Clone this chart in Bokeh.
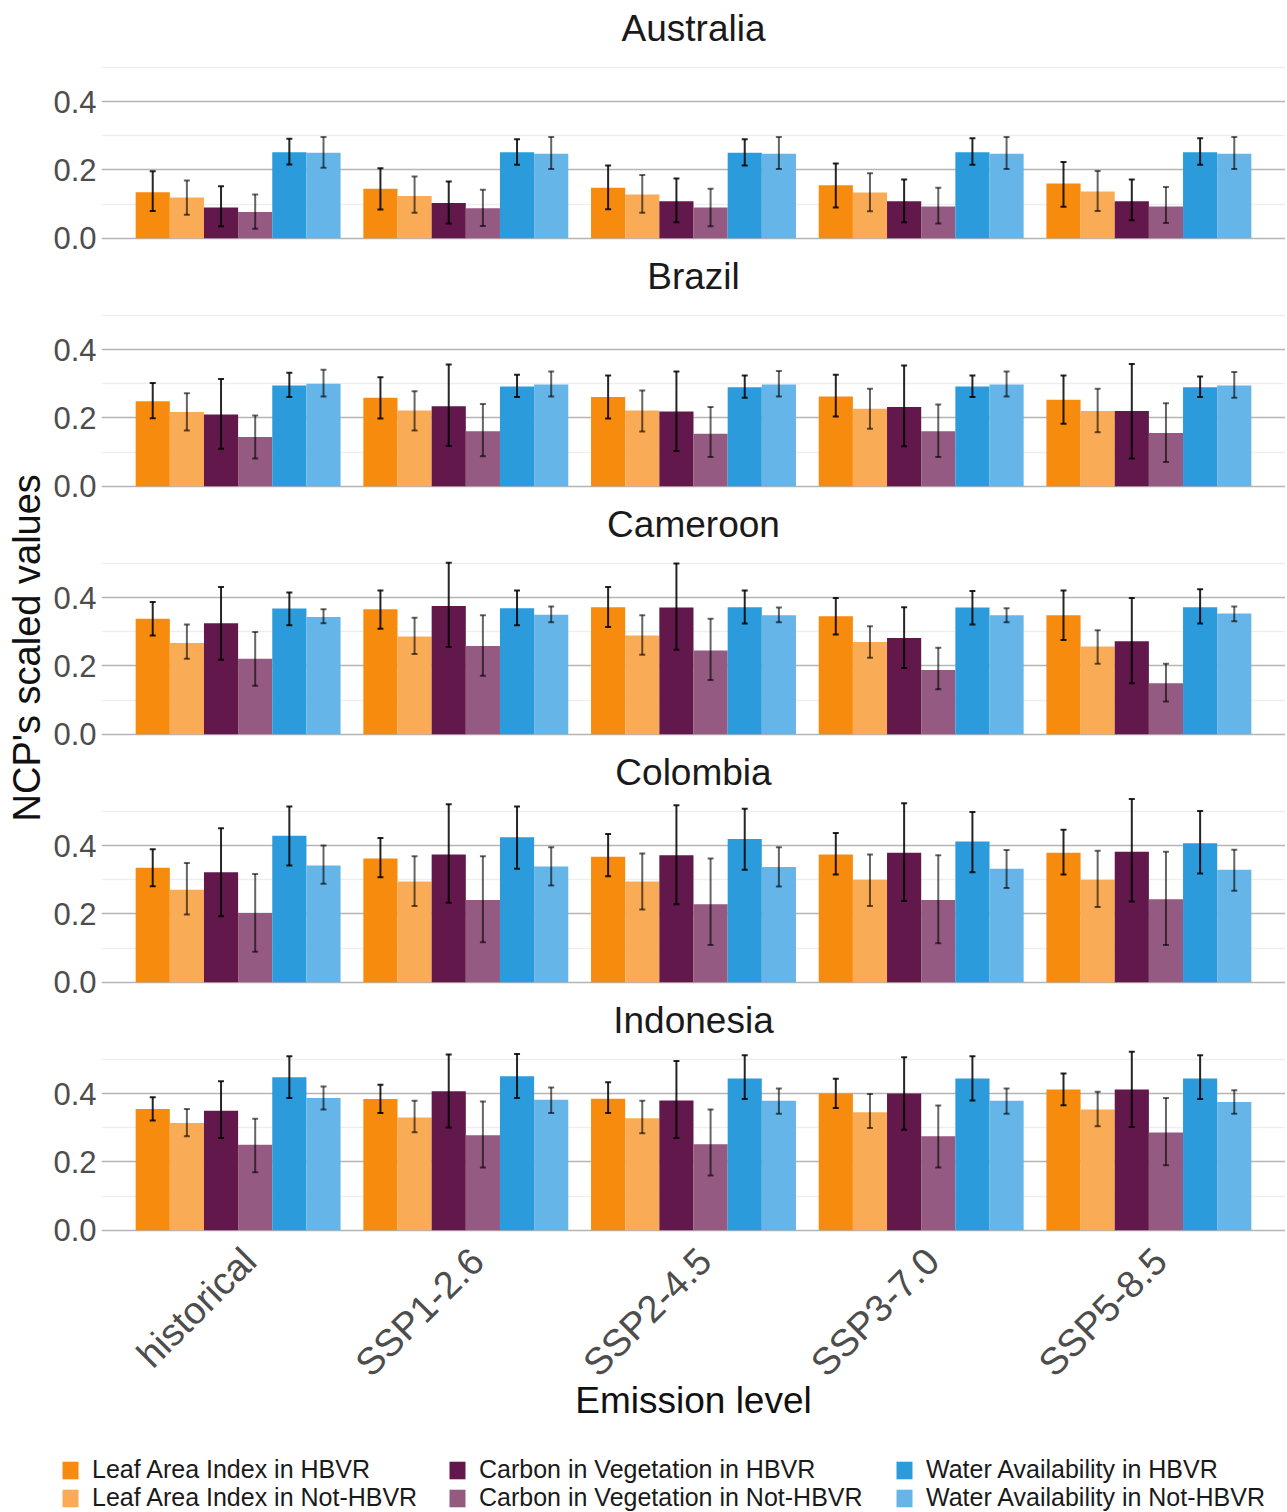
import math
from bokeh.plotting import figure
from bokeh.models import (ColumnDataSource, Range1d, FixedTicker, Whisker, LinearAxis,
                          TeeHead, Legend, LegendItem, NumeralTickFormatter)
from bokeh.transform import dodge
from bokeh.layouts import column, row
from bokeh.core.properties import value
from bokeh.embed import file_html
from bokeh.resources import INLINE

# ---------------- data ----------------
EMISSIONS = ["historical", "SSP1-2.6", "SSP2-4.5", "SSP3-7.0", "SSP5-8.5"]
SERIES = ["Leaf Area Index in HBVR", "Leaf Area Index in Not-HBVR",
          "Carbon in Vegetation in HBVR", "Carbon in Vegetation in Not-HBVR",
          "Water Availability in HBVR", "Water Availability in Not-HBVR"]
COUNTRIES = ["Australia", "Brazil", "Cameroon", "Colombia", "Indonesia"]
Y_TICKS = [0.0, 0.2, 0.4]
Y_MINOR = [0.1, 0.3, 0.5]
X_LABEL = "Emission level"
Y_LABEL = "NCP's  scaled values"

# rows follow SERIES, columns follow EMISSIONS
AUSTRALIA_MEAN = [
    [0.135, 0.145, 0.148, 0.155, 0.160],
    [0.119, 0.124, 0.128, 0.134, 0.137],
    [0.090, 0.103, 0.108, 0.108, 0.108],
    [0.077, 0.088, 0.090, 0.093, 0.093],
    [0.252, 0.252, 0.250, 0.252, 0.252],
    [0.250, 0.247, 0.247, 0.247, 0.247],
]
AUSTRALIA_LOW = [
    [0.080, 0.084, 0.085, 0.090, 0.092],
    [0.069, 0.075, 0.075, 0.079, 0.080],
    [0.035, 0.043, 0.047, 0.047, 0.053],
    [0.028, 0.036, 0.035, 0.043, 0.045],
    [0.216, 0.215, 0.213, 0.215, 0.215],
    [0.206, 0.203, 0.203, 0.203, 0.203],
]
AUSTRALIA_HIGH = [
    [0.196, 0.205, 0.213, 0.219, 0.223],
    [0.169, 0.181, 0.185, 0.190, 0.197],
    [0.152, 0.166, 0.175, 0.172, 0.172],
    [0.128, 0.142, 0.145, 0.148, 0.150],
    [0.291, 0.290, 0.290, 0.293, 0.293],
    [0.296, 0.296, 0.296, 0.296, 0.296],
]

BRAZIL_MEAN = [
    [0.249, 0.259, 0.261, 0.263, 0.253],
    [0.217, 0.222, 0.222, 0.227, 0.220],
    [0.210, 0.234, 0.219, 0.232, 0.220],
    [0.144, 0.161, 0.154, 0.161, 0.156],
    [0.295, 0.292, 0.290, 0.292, 0.290],
    [0.300, 0.298, 0.298, 0.298, 0.295],
]
BRAZIL_LOW = [
    [0.199, 0.198, 0.198, 0.204, 0.183],
    [0.163, 0.163, 0.160, 0.168, 0.158],
    [0.110, 0.118, 0.103, 0.117, 0.081],
    [0.081, 0.088, 0.086, 0.086, 0.071],
    [0.261, 0.261, 0.259, 0.261, 0.261],
    [0.263, 0.263, 0.263, 0.263, 0.259],
]
BRAZIL_HIGH = [
    [0.302, 0.319, 0.324, 0.326, 0.324],
    [0.272, 0.278, 0.280, 0.285, 0.285],
    [0.314, 0.356, 0.336, 0.353, 0.358],
    [0.207, 0.241, 0.232, 0.239, 0.243],
    [0.332, 0.326, 0.324, 0.324, 0.321],
    [0.341, 0.336, 0.337, 0.336, 0.334],
]

CAMEROON_MEAN = [
    [0.338, 0.366, 0.372, 0.345, 0.348],
    [0.267, 0.286, 0.289, 0.270, 0.257],
    [0.325, 0.375, 0.371, 0.282, 0.272],
    [0.221, 0.258, 0.245, 0.188, 0.149],
    [0.368, 0.369, 0.372, 0.371, 0.372],
    [0.343, 0.350, 0.348, 0.348, 0.353],
]
CAMEROON_LOW = [
    [0.289, 0.309, 0.314, 0.292, 0.276],
    [0.221, 0.235, 0.233, 0.224, 0.206],
    [0.218, 0.255, 0.247, 0.194, 0.149],
    [0.142, 0.171, 0.159, 0.132, 0.096],
    [0.319, 0.319, 0.324, 0.321, 0.324],
    [0.325, 0.328, 0.328, 0.328, 0.331],
]
CAMEROON_HIGH = [
    [0.387, 0.421, 0.431, 0.399, 0.421],
    [0.321, 0.341, 0.348, 0.316, 0.304],
    [0.431, 0.502, 0.500, 0.372, 0.399],
    [0.299, 0.348, 0.338, 0.253, 0.206],
    [0.415, 0.421, 0.421, 0.419, 0.424],
    [0.366, 0.374, 0.371, 0.369, 0.374],
]

COLOMBIA_MEAN = [
    [0.335, 0.362, 0.367, 0.374, 0.379],
    [0.271, 0.295, 0.295, 0.300, 0.300],
    [0.322, 0.374, 0.372, 0.379, 0.382],
    [0.203, 0.241, 0.228, 0.241, 0.243],
    [0.429, 0.424, 0.419, 0.412, 0.407],
    [0.342, 0.339, 0.337, 0.332, 0.329],
]
COLOMBIA_LOW = [
    [0.281, 0.307, 0.310, 0.315, 0.315],
    [0.198, 0.223, 0.213, 0.223, 0.220],
    [0.193, 0.233, 0.228, 0.238, 0.236],
    [0.089, 0.117, 0.109, 0.114, 0.109],
    [0.342, 0.332, 0.329, 0.322, 0.318],
    [0.288, 0.283, 0.280, 0.276, 0.268],
]
COLOMBIA_HIGH = [
    [0.389, 0.422, 0.434, 0.437, 0.446],
    [0.349, 0.369, 0.377, 0.374, 0.385],
    [0.451, 0.521, 0.518, 0.524, 0.536],
    [0.317, 0.369, 0.362, 0.372, 0.382],
    [0.514, 0.514, 0.508, 0.498, 0.501],
    [0.400, 0.395, 0.395, 0.387, 0.388],
]

INDONESIA_MEAN = [
    [0.355, 0.384, 0.385, 0.400, 0.412],
    [0.314, 0.330, 0.328, 0.345, 0.353],
    [0.350, 0.407, 0.380, 0.400, 0.412],
    [0.250, 0.278, 0.252, 0.275, 0.286],
    [0.448, 0.451, 0.444, 0.444, 0.444],
    [0.387, 0.382, 0.379, 0.379, 0.375],
]
INDONESIA_LOW = [
    [0.321, 0.343, 0.343, 0.358, 0.366],
    [0.275, 0.287, 0.284, 0.299, 0.304],
    [0.270, 0.301, 0.270, 0.294, 0.302],
    [0.170, 0.184, 0.160, 0.184, 0.190],
    [0.387, 0.387, 0.384, 0.380, 0.384],
    [0.353, 0.343, 0.341, 0.341, 0.341],
]
INDONESIA_HIGH = [
    [0.389, 0.426, 0.433, 0.443, 0.459],
    [0.355, 0.379, 0.379, 0.399, 0.405],
    [0.436, 0.514, 0.495, 0.506, 0.522],
    [0.326, 0.377, 0.353, 0.365, 0.387],
    [0.509, 0.516, 0.512, 0.509, 0.512],
    [0.421, 0.418, 0.415, 0.415, 0.410],
]

PANELS = {
    "Australia": (AUSTRALIA_MEAN, AUSTRALIA_LOW, AUSTRALIA_HIGH),
    "Brazil": (BRAZIL_MEAN, BRAZIL_LOW, BRAZIL_HIGH),
    "Cameroon": (CAMEROON_MEAN, CAMEROON_LOW, CAMEROON_HIGH),
    "Colombia": (COLOMBIA_MEAN, COLOMBIA_LOW, COLOMBIA_HIGH),
    "Indonesia": (INDONESIA_MEAN, INDONESIA_LOW, INDONESIA_HIGH),
}

# ---------------- styling ----------------
COLORS = ["#F68B0E", "#F9AC55", "#62184A", "#945A81", "#2B9BDB", "#66B5E8"]
ERR_ALPHA = [0.85, 0.6, 0.85, 0.6, 0.85, 0.6]
OFFSETS = [-0.375, -0.225, -0.075, 0.075, 0.225, 0.375]
BAR_W = 0.15
FONT = "Liberation Sans"

S = 342.0                 # pixels per data unit
Y0, Y1 = -0.027, 0.567
FRAME_H = round((Y1 - Y0) * S)
LEFT_W = 50
PANEL_W = 1235
BORDER_L = 50
BOTTOM_PAD = 10
BELOW_PX = 201
LEGEND_H = 72
LABEL_SHIFT = 0.05        # rotated tick labels sit slightly right of the group centre
PAD = 0.04                # fraction of the category span added as outer padding

n = len(EMISSIONS)
half_pad = PAD * n / 2
POS = [k + 0.5 for k in range(n)]          # category slots on the linear scale
x_range = Range1d(-half_pad, n + half_pad)

panels = []
for i, country in enumerate(COUNTRIES):
    mean, low, high = PANELS[country]
    last = (i == len(COUNTRIES) - 1)
    title_px = 44 if i == 0 else 45 - BOTTOM_PAD
    below = BELOW_PX if last else BOTTOM_PAD
    p = figure(width=PANEL_W, height=FRAME_H + title_px + below,
               x_range=x_range, y_range=Range1d(Y0, Y1 + title_px / S),
               output_backend="svg", toolbar_location=None,
               x_axis_location=None,
               min_border_left=BORDER_L, min_border_right=0,
               min_border_top=0, min_border_bottom=below)
    p.outline_line_color = None
    p.xgrid.visible = False
    ticker = FixedTicker(ticks=Y_TICKS, minor_ticks=Y_MINOR)
    p.yaxis.ticker = ticker
    p.ygrid.ticker = ticker
    p.ygrid.grid_line_color = "#b5b5b5"
    p.ygrid.grid_line_width = 1.5
    p.ygrid.minor_grid_line_color = "#eeeeee"
    p.ygrid.minor_grid_line_width = 1.5
    p.yaxis.formatter = NumeralTickFormatter(format="0.0")
    p.yaxis.axis_line_color = None
    p.yaxis.major_tick_line_color = None
    p.yaxis.minor_tick_line_color = None
    p.yaxis.major_tick_out = 0
    p.yaxis.major_tick_in = 0
    p.yaxis.minor_tick_out = 0
    p.yaxis.minor_tick_in = 0
    p.yaxis.major_label_text_font = FONT
    p.yaxis.major_label_text_font_size = "31px"
    p.yaxis.major_label_text_color = "#4d4d4d"
    p.yaxis.major_label_standoff = 5

    for j, name in enumerate(SERIES):
        src = ColumnDataSource(dict(emission=EMISSIONS, pos=POS,
                                    mean=mean[j], lo=low[j], hi=high[j]))
        p.vbar(x=dodge("pos", OFFSETS[j]), top="mean", bottom=0, width=BAR_W, source=src,
               fill_color=COLORS[j], line_color=None)
        a = ERR_ALPHA[j]
        w = Whisker(source=src, base=dodge("pos", OFFSETS[j]),
                    upper="hi", lower="lo", line_color="black", line_alpha=a, line_width=2,
                    upper_head=TeeHead(size=6, line_color="black", line_alpha=a, line_width=2),
                    lower_head=TeeHead(size=6, line_color="black", line_alpha=a, line_width=2),
                    level="overlay")
        p.add_layout(w)

    # facet strip title inside the top of the frame
    p.text(x=[n / 2], y=[Y1 + 16 / S], text=[country],
           text_align="center", text_baseline="middle",
           text_font=value(FONT), text_font_size="37px", text_color="#1a1a1a")

    if last:
        # category labels on a copy of the x scale, nudged right like the original
        p.extra_x_ranges = {"lab": Range1d(-half_pad - LABEL_SHIFT, n + half_pad - LABEL_SHIFT)}
        xa = LinearAxis(x_range_name="lab", ticker=FixedTicker(ticks=POS),
                        major_label_overrides={c: e for c, e in zip(POS, EMISSIONS)})
        xa.axis_line_color = None
        xa.major_tick_line_color = None
        xa.minor_tick_line_color = None
        xa.major_tick_out = 0
        xa.major_tick_in = 0
        xa.minor_tick_out = 0
        xa.minor_tick_in = 0
        xa.major_label_orientation = math.pi / 4
        xa.major_label_text_font = FONT
        xa.major_label_text_font_size = "38px"
        xa.major_label_text_color = "#4d4d4d"
        xa.major_label_standoff = 15
        xa.axis_label = X_LABEL
        xa.axis_label_text_font = FONT
        xa.axis_label_text_font_size = "37px"
        xa.axis_label_text_font_style = "normal"
        xa.axis_label_text_color = "#111111"
        xa.axis_label_standoff = -22
        p.add_layout(xa, "below")
    panels.append(p)

total_h = sum(pp.height for pp in panels)

# shared y-axis title
lab = figure(width=LEFT_W, height=total_h, x_range=Range1d(0, LEFT_W), y_range=Range1d(0, total_h),
             output_backend="svg", toolbar_location=None, min_border=0,
             x_axis_location=None, y_axis_location=None)
lab.outline_line_color = None
lab.grid.visible = False
lab.text(x=[26], y=[total_h - 642], text=[Y_LABEL], angle=math.pi / 2,
         text_align="center", text_baseline="middle",
         text_font=value(FONT), text_font_size="38px", text_color="#111111")

# legend: one entry per box so that rows can sit close together
leg = figure(width=LEFT_W + PANEL_W, height=LEGEND_H, x_range=Range1d(0, 1), y_range=Range1d(0, 1),
             output_backend="svg", toolbar_location=None, min_border=0,
             x_axis_location=None, y_axis_location=None)
leg.outline_line_color = None
leg.grid.visible = False
rends = [leg.vbar(x=[-5], top=[-5], bottom=[-6], width=0.1, fill_color=c, line_color=None)
         for c in COLORS]
LEG_X = [60, 447, 894]
LEG_Y = [28, 0]
for j, name in enumerate(SERIES):
    L = Legend(items=[LegendItem(label=name, renderers=[rends[j]])],
               location=(LEG_X[j // 2], LEG_Y[j % 2]),
               label_text_font=FONT, label_text_font_size="25px", label_text_color="#1a1a1a",
               glyph_width=20, glyph_height=22, label_height=22, label_standoff=12,
               spacing=0, padding=0, margin=0, border_line_color=None,
               background_fill_alpha=0)
    leg.add_layout(L)

layout = column(row(lab, column(*panels, spacing=0), spacing=0), leg, spacing=0)

open("out.html", "w").write(file_html(layout, INLINE))
